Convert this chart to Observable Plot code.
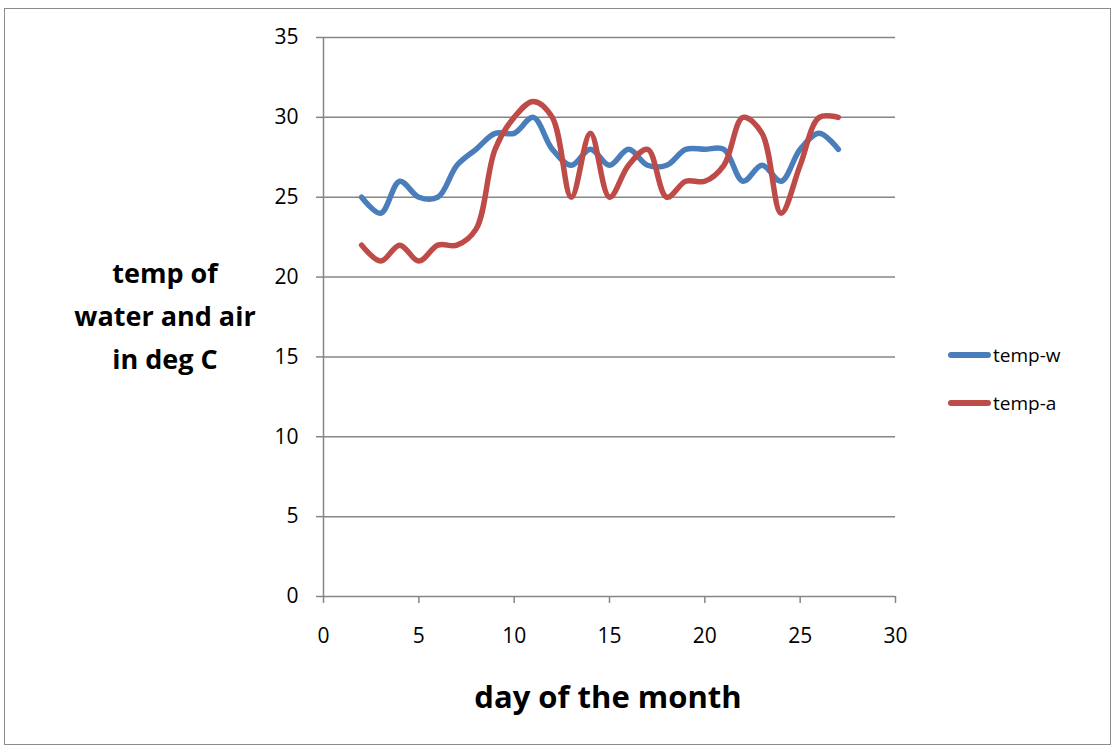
<!DOCTYPE html>
<html>
<head>
<meta charset="utf-8">
<script src="https://cdn.jsdelivr.net/npm/d3@7"></script>
<script src="https://cdn.jsdelivr.net/npm/@observablehq/plot@0.6"></script>
<style>
  html, body { margin: 0; padding: 0; background: #fff; }
  #wrap { position: relative; width: 1117px; height: 748px; font-family: "Open Sans", "Noto Sans", sans-serif; }
  #border { position: absolute; left: 4px; top: 8px; width: 1107px; height: 737px; border: 1.5px solid #8c8c8c; box-sizing: border-box; }
  #chart { position: absolute; left: 0; top: 0; }
  .ytitle { position: absolute; left: 45px; top: 251px; width: 240px; text-align: center; font-weight: bold; font-size: 27px; line-height: 43px; color: #000; }
  .xtitle { position: absolute; left: 358px; top: 675px; width: 500px; text-align: center; font-weight: bold; font-size: 31px; color: #000; }
  .legend { position: absolute; left: 948px; top: 331px; font-size: 19px; color: #000; }
  .legend .item { display: flex; align-items: center; height: 48px; }
  .legend .sw { width: 43px; height: 5.5px; border-radius: 3px; margin-right: 2px; }
</style>
</head>
<body>
<div id="wrap">
  <div id="border"></div>
  <div id="chart"></div>
  <div class="ytitle">temp of<br>water and air<br>in deg C</div>
  <div class="xtitle">day of the month</div>
  <div class="legend" id="legend"></div>
</div>
<script>
const days  = [2,3,4,5,6,7,8,9,10,11,12,13,14,15,16,17,18,19,20,21,22,23,24,25,26,27];
const tempW = [25,24,26,25,25,27,28,29,29,30,28,27,28,27,28,27,27,28,28,28,26,27,26,28,29,28];
const tempA = [22,21,22,21,22,22,23,28,30,31,30,25,29,25,27,28,25,26,26,27,30,29,24,27,30,30];
const seriesNames = ["temp-w", "temp-a"];
const seriesColors = ["#4a7ebb", "#be4b48"];
const xTicks = [0,5,10,15,20,25,30];
const yTicks = [0,5,10,15,20,25,30,35];

const rows = [];
days.forEach((d, i) => {
  rows.push({day: d, temp: tempW[i], series: seriesNames[0]});
  rows.push({day: d, temp: tempA[i], series: seriesNames[1]});
});

const chart = Plot.plot({
  width: 1117,
  height: 748,
  marginLeft: 323,
  marginRight: 222,
  marginTop: 37,
  marginBottom: 152,
  style: {fontFamily: '"Open Sans", "Noto Sans", sans-serif', fontSize: "21px", color: "#000", background: "transparent"},
  x: {domain: [0, 30]},
  y: {domain: [0, 35]},
  color: {domain: seriesNames, range: seriesColors},
  marks: [
    Plot.gridY(yTicks, {stroke: "#868686", strokeOpacity: 1, strokeWidth: 1.5}),
    Plot.ruleX([0], {stroke: "#868686", strokeWidth: 1.5}),
    Plot.axisY(yTicks, {tickSize: 7, tickPadding: 18, stroke: "#868686", strokeWidth: 1.5, label: null, fill: "#000"}),
    Plot.axisX(xTicks, {tickSize: 7, tickPadding: 25, stroke: "#868686", strokeWidth: 1.5, label: null, fill: "#000"}),
    Plot.lineY(rows, {x: "day", y: "temp", z: "series", stroke: "series", strokeWidth: 5.5, curve: "catmull-rom", strokeLinecap: "round", strokeLinejoin: "round"})
  ]
});
document.getElementById("chart").appendChild(chart);

const legend = document.getElementById("legend");
seriesNames.forEach((n, i) => {
  const it = document.createElement("div");
  it.className = "item";
  const sw = document.createElement("div");
  sw.className = "sw";
  sw.style.background = seriesColors[i];
  const t = document.createElement("span");
  t.textContent = n;
  it.appendChild(sw); it.appendChild(t);
  legend.appendChild(it);
});
</script>
</body>
</html>
